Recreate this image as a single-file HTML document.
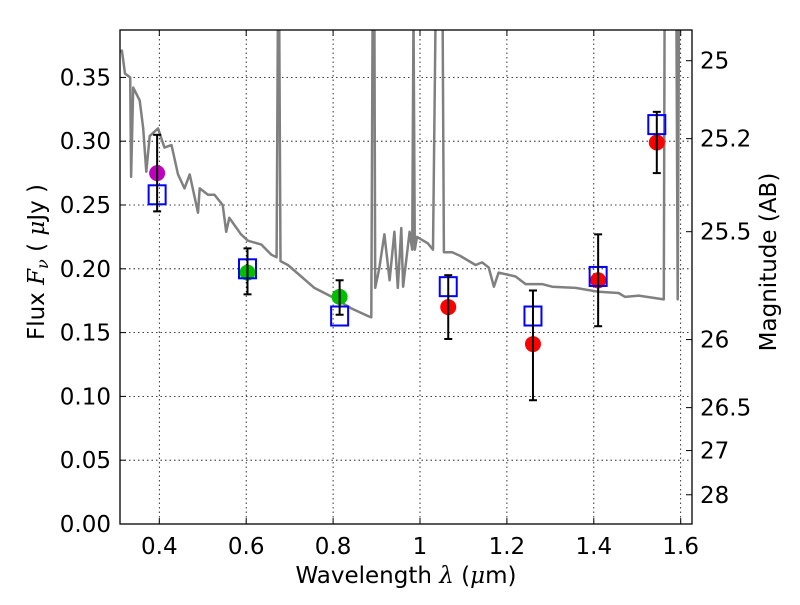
<!DOCTYPE html>
<html><head><meta charset="utf-8">
<style>
body{margin:0;background:#fff;}
svg text{font-family:"DejaVu Sans","Liberation Sans",sans-serif;}
</style></head>
<body>
<svg id="chart" width="800" height="600" xmlns="http://www.w3.org/2000/svg">
<rect width="800" height="600" fill="#fff"/>
<g id="grid"></g>
<g id="spec"></g>
<g id="marks"></g>
<rect x="120" y="30" width="572" height="494" fill="none" stroke="#000" stroke-width="1.3"/>
<g id="ticks"></g>
<text x="406" y="583" font-size="23" text-anchor="middle">Wavelength  <tspan font-family="DejaVu Serif" font-style="italic">λ</tspan> (<tspan font-family="DejaVu Serif" font-style="italic">μ</tspan>m)</text>
<text transform="translate(44,262) rotate(-90)" font-size="23" text-anchor="middle">Flux  <tspan font-family="DejaVu Serif" font-style="italic">F<tspan font-size="16" dy="4">ν</tspan></tspan><tspan dy="-4">  ( </tspan><tspan font-family="DejaVu Serif" font-style="italic">μ</tspan>Jy )</text>
<text transform="translate(776,262) rotate(-90)" font-size="23" text-anchor="middle">Magnitude (AB)</text>
</svg>
<script>
const xTicks=[0.4,0.6,0.8,1.0,1.2,1.4,1.6];
const xTickLabels=["0.4","0.6","0.8","1","1.2","1.4","1.6"];
const yTicks=[0,0.05,0.10,0.15,0.20,0.25,0.30,0.35];
const yTickLabels=["0.00","0.05","0.10","0.15","0.20","0.25","0.30","0.35"];
const magTicks=[25,25.2,25.5,26,26.5,27,28];
const magTickLabels=["25","25.2","25.5","26","26.5","27","28"];
const bandWave=[0.395,0.603,0.815,1.065,1.26,1.41,1.545];
const bandFlux=[0.275,0.197,0.178,0.170,0.141,0.191,0.299];
const errLow=[0.245,0.180,0.164,0.145,0.097,0.155,0.275];
const errHigh=[0.305,0.216,0.191,0.195,0.183,0.227,0.323];
const modelFlux=[0.258,0.200,0.163,0.186,0.163,0.194,0.313];
const pointColors=["#bf00bf","#00bf00","#00bf00","#ff0000","#ff0000","#ff0000","#ff0000"];
const specWave=[0.31,0.314,0.321,0.333,0.335,0.340,0.355,0.363,0.370,0.378,0.397,0.412,0.428,0.443,0.458,0.470,0.489,0.493,0.512,0.527,0.546,0.554,0.561,0.588,0.604,0.635,0.658,0.670,0.673,0.676,0.679,0.696,0.757,0.803,0.842,0.880,0.888,0.891,0.895,0.897,0.906,0.918,0.93,0.941,0.949,0.957,0.961,0.976,0.982,0.985,0.988,0.993,1.018,1.030,1.036,1.040,1.048,1.052,1.055,1.074,1.093,1.128,1.143,1.158,1.17,1.181,1.22,1.243,1.281,1.304,1.358,1.411,1.457,1.472,1.503,1.561,1.563,1.566,1.590,1.593,1.596,1.600,1.604];
const specFlux=[0.37,0.371,0.353,0.350,0.272,0.342,0.332,0.310,0.276,0.304,0.310,0.295,0.297,0.274,0.263,0.274,0.244,0.263,0.258,0.258,0.250,0.229,0.240,0.227,0.222,0.219,0.211,0.209,0.40,0.40,0.206,0.203,0.185,0.177,0.169,0.163,0.162,0.40,0.40,0.185,0.200,0.227,0.191,0.229,0.185,0.232,0.186,0.229,0.215,0.40,0.215,0.225,0.220,0.215,0.40,0.40,0.40,0.40,0.213,0.213,0.210,0.203,0.205,0.201,0.186,0.197,0.194,0.188,0.188,0.186,0.185,0.182,0.181,0.178,0.179,0.176,0.40,0.40,0.40,0.176,0.40,0.40,0.40];
const NS="http://www.w3.org/2000/svg";
const X=v=>159.3+(v-0.4)*434.5;
const Y=v=>524-v*1276;
const magY=m=>Y(Math.pow(10,(23.9-m)/2.5));
function mk(tag,attrs,parent){const e=document.createElementNS(NS,tag);for(const k in attrs)e.setAttribute(k,attrs[k]);parent.appendChild(e);return e;}
const grid=document.getElementById('grid'),ticks=document.getElementById('ticks');
xTicks.forEach((v,i)=>{
 const l=mk('line',{x1:X(v),x2:X(v),y1:30,y2:524,stroke:'#000','stroke-dasharray':'1.5,3','stroke-width':0.8},grid);
 
 
 mk('line',{x1:X(v),x2:X(v),y1:524,y2:518,stroke:'#000'},ticks);
 mk('line',{x1:X(v),x2:X(v),y1:30,y2:36,stroke:'#000'},ticks);
 const t=mk('text',{x:X(v),y:554,'font-size':23,'text-anchor':'middle'},ticks);t.textContent=xTickLabels[i];
 
 
});
yTicks.forEach((v,i)=>{
 const l=mk('line',{x1:120,x2:692,y1:Y(v),y2:Y(v),stroke:'#000','stroke-dasharray':'1.5,3','stroke-width':0.8},grid);
 
 
 mk('line',{x1:120,x2:126,y1:Y(v),y2:Y(v),stroke:'#000'},ticks);
 const t=mk('text',{x:111,y:Y(v)+8,'font-size':23,'text-anchor':'end'},ticks);t.textContent=yTickLabels[i];
 
 
});
magTicks.forEach((m,i)=>{
 mk('line',{x1:686,x2:692,y1:magY(m),y2:magY(m),stroke:'#000'},ticks);
 const t=mk('text',{x:700,y:magY(m)+8,'font-size':23},ticks);t.textContent=magTickLabels[i];
 
 
});
const spec=document.getElementById('spec');
const cp=mk('clipPath',{id:'clip'},spec);mk('rect',{x:120,y:30,width:572,height:494},cp);
const pts=specWave.map((w,i)=>X(w).toFixed(1)+','+Y(specFlux[i]).toFixed(1)).join(' ');
const pl=mk('polyline',{points:pts,fill:'none',stroke:'#808080','stroke-width':2.5,'stroke-linejoin':'round','clip-path':'url(#clip)'},spec);


const marks=document.getElementById('marks');
bandWave.forEach((w,i)=>{
 const x=X(w);
 const g=mk('g',{},marks);
 
 
 const c=mk('circle',{cx:x,cy:Y(bandFlux[i]),r:8,fill:pointColors[i]},g);
 
 
 const s=mk('rect',{x:x-8.5,y:Y(modelFlux[i])-9.5,width:17,height:19,fill:'none',stroke:'#0000ff','stroke-width':2},g);
 
 
 const e=mk('line',{x1:x,x2:x,y1:Y(errLow[i]),y2:Y(errHigh[i]),stroke:'#000','stroke-width':2},g);
 
 
 mk('line',{x1:x-4,x2:x+4,y1:Y(errLow[i]),y2:Y(errLow[i]),stroke:'#000','stroke-width':2},g);
 mk('line',{x1:x-4,x2:x+4,y1:Y(errHigh[i]),y2:Y(errHigh[i]),stroke:'#000','stroke-width':2},g);
});
</script>
</body></html>
